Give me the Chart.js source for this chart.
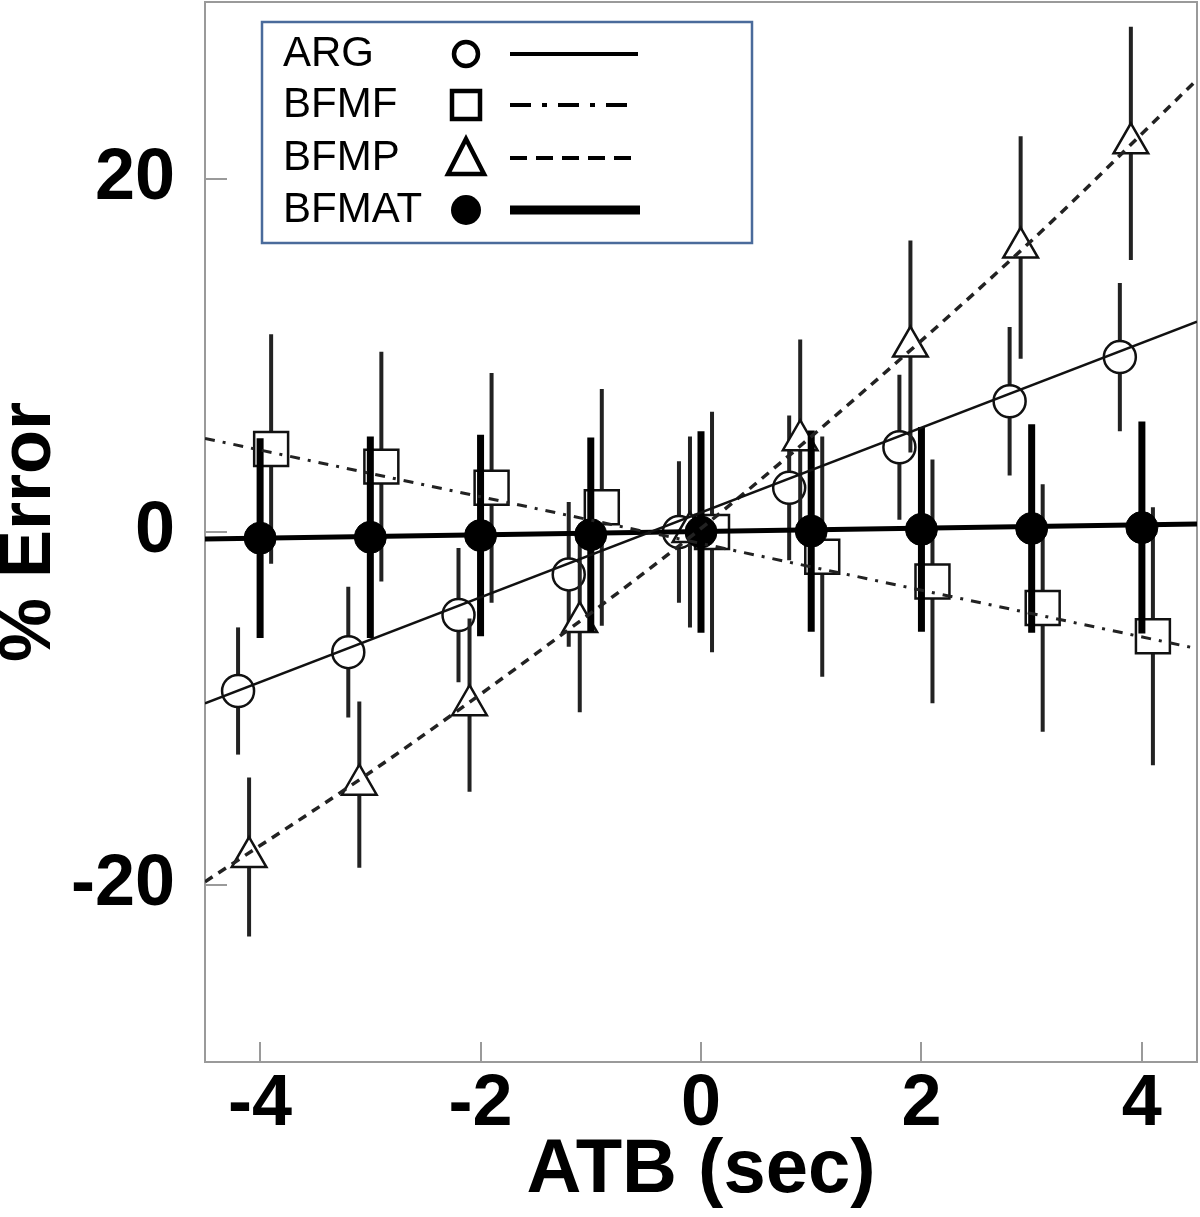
<!DOCTYPE html>
<html>
<head>
<meta charset="utf-8">
<title>% Error vs ATB</title>
<script src="https://cdn.jsdelivr.net/npm/chart.js@4.4.0/dist/chart.umd.min.js"></script>
<style>
  html, body { margin: 0; padding: 0; background: #fff; }
  #wrap { width: 1200px; height: 1217px; }
</style>
</head>
<body>
<div id="wrap"><canvas id="errorChart" width="1200" height="1217"></canvas></div>
<script>
const seriesNames = ['ARG', 'BFMF', 'BFMP', 'BFMAT'];
const xTickValues = [-4, -2, 0, 2, 4];
const yTickValues = [-20, 0, 20];

// each group is shifted a little on x so the bars don't sit on top of each other
const argX = [-4.2, -3.2, -2.2, -1.2, -0.2, 0.8, 1.8, 2.8, 3.8];
const argY = [-9.0, -6.8, -4.7, -2.4, 0.0, 2.5, 4.8, 7.4, 9.9];
const argErr = [3.6, 3.7, 3.8, 4.1, 4.0, 4.1, 4.1, 4.2, 4.2];

const bfmfX = [-3.9, -2.9, -1.9, -0.9, 0.1, 1.1, 2.1, 3.1, 4.1];
const bfmfY = [4.7, 3.7, 2.5, 1.4, 0.0, -1.4, -2.8, -4.3, -5.9];
const bfmfErr = [6.5, 6.5, 6.5, 6.7, 6.8, 6.8, 6.9, 7.0, 7.3];

const bfmpX = [-4.1, -3.1, -2.1, -1.1, -0.1, 0.9, 1.9, 2.9, 3.9];
const bfmpY = [-18.4, -14.3, -9.8, -5.1, 0.0, 5.2, 10.5, 16.1, 22.0];
const bfmpErr = [4.5, 4.7, 4.9, 5.1, 5.4, 5.7, 6.0, 6.3, 6.6];

const bfmatX = [-4, -3, -2, -1, 0, 1, 2, 3, 4];
const bfmatY = [-0.35, -0.3, -0.2, -0.15, 0.0, 0.05, 0.15, 0.2, 0.25];
const bfmatErr = [5.65, 5.7, 5.7, 5.5, 5.7, 5.7, 5.8, 5.9, 6.0];

const argFitX = [-4.5, 4.5];
const argFitY = [-9.7, 11.9];
const bfmfFitX = [-4.5, 4.5];
const bfmfFitY = [5.3, -6.6];
const bfmpFitX = [-4.5, -3, -1.5, 0, 1.5, 3, 4.5];
const bfmpFitY = [-19.8, -13.6, -6.9, 0.2, 8.1, 16.5, 25.6];
const bfmatFitX = [-4.5, 4.5];
const bfmatFitY = [-0.4, 0.45];

const FONT = "'Liberation Sans', Arial, Helvetica, sans-serif";
const AXIS_GRAY = '#9a9a9a';

function toPoints(xs, ys) {
  return xs.map(function (x, i) { return { x: x, y: ys[i] }; });
}

// vertical error bars, drawn just before the markers of the same dataset
const errorBarPlugin = {
  id: 'errorBars',
  beforeDatasetDraw(chart, args) {
    const ds = chart.data.datasets[args.index];
    if (!ds.errors) return;
    const ctx = chart.ctx;
    const yScale = chart.scales.y;
    const area = chart.chartArea;
    ctx.save();
    ctx.beginPath();
    ctx.rect(area.left, area.top, area.right - area.left, area.bottom - area.top);
    ctx.clip();
    ctx.strokeStyle = ds.errColor;
    ctx.lineWidth = ds.errWidth;
    ctx.lineCap = 'butt';
    args.meta.data.forEach(function (pt, i) {
      const v = ds.data[i].y;
      ctx.beginPath();
      ctx.moveTo(pt.x, yScale.getPixelForValue(v - ds.errors[i]));
      ctx.lineTo(pt.x, yScale.getPixelForValue(v + ds.errors[i]));
      ctx.stroke();
    });
    ctx.restore();
  }
};

// top and right side of the plot box
const framePlugin = {
  id: 'frame',
  beforeDatasetsDraw(chart) {
    const ctx = chart.ctx;
    const a = chart.chartArea;
    ctx.save();
    ctx.strokeStyle = AXIS_GRAY;
    ctx.lineWidth = 2;
    ctx.beginPath();
    ctx.moveTo(a.left, a.top);
    ctx.lineTo(a.right, a.top);
    ctx.lineTo(a.right, a.bottom);
    ctx.stroke();
    ctx.restore();
  }
};

function drawMarker(ctx, style, x, y) {
  ctx.beginPath();
  if (style === 'circle') {
    ctx.arc(x, y, 12, 0, Math.PI * 2);
    ctx.stroke();
  } else if (style === 'rect') {
    ctx.rect(x - 14, y - 14, 28, 28);
    ctx.stroke();
  } else if (style === 'triangle') {
    ctx.moveTo(x, y - 19);
    ctx.lineTo(x + 18, y + 16);
    ctx.lineTo(x - 18, y + 16);
    ctx.closePath();
    ctx.stroke();
  } else {
    ctx.arc(x, y, 15, 0, Math.PI * 2);
    ctx.fill();
  }
}

const legendBoxPlugin = {
  id: 'legendBox',
  afterDraw(chart) {
    const ctx = chart.ctx;
    const rows = [54, 105, 158, 210];
    const markers = ['circle', 'rect', 'triangle', 'dot'];
    const dashes = [[], [21, 11, 5, 11], [17, 9], []];
    const widths = [4, 4, 4, 9];
    const ends = [638, 628, 640, 640];
    ctx.save();
    ctx.fillStyle = '#fff';
    ctx.fillRect(262, 22, 490, 221);
    ctx.strokeStyle = '#4a6b9b';
    ctx.lineWidth = 2.5;
    ctx.strokeRect(262, 22, 490, 221);

    ctx.font = '42px ' + FONT;
    ctx.textBaseline = 'middle';
    seriesNames.forEach(function (name, i) {
      const y = rows[i];
      ctx.fillStyle = '#000';
      ctx.fillText(name, 283, y);
      ctx.strokeStyle = '#000';
      ctx.lineWidth = 4.5;
      ctx.lineJoin = 'miter';
      ctx.setLineDash([]);
      drawMarker(ctx, markers[i], 466, y);
      ctx.lineWidth = widths[i];
      ctx.setLineDash(dashes[i]);
      ctx.beginPath();
      ctx.moveTo(510, y);
      ctx.lineTo(ends[i], y);
      ctx.stroke();
    });
    ctx.restore();
  }
};

// drop the label overhang padding Chart.js adds, the box sizes are fixed
function fixScaleBox(scale, size) {
  if (scale.isHorizontal()) {
    scale.height = size;
  } else {
    scale.width = size;
  }
  scale.paddingTop = 0;
  scale.paddingBottom = 0;
  scale.paddingLeft = 0;
  scale.paddingRight = 0;
}

const ctx = document.getElementById('errorChart').getContext('2d');

const datasets = [
  // fit lines, drawn last
  {
    label: 'ARG fit', data: toPoints(argFitX, argFitY), showLine: true,
    borderColor: '#111', borderWidth: 2.5, pointRadius: 0, order: 0
  },
  {
    label: 'BFMF fit', data: toPoints(bfmfFitX, bfmfFitY), showLine: true,
    borderColor: '#222', borderWidth: 3, borderDash: [10, 8, 3, 8], pointRadius: 0, order: 1
  },
  {
    label: 'BFMP fit', data: toPoints(bfmpFitX, bfmpFitY), showLine: true,
    borderColor: '#222', borderWidth: 3.5, borderDash: [9, 7], pointRadius: 0,
    cubicInterpolationMode: 'monotone', order: 2
  },
  {
    label: 'BFMAT fit', data: toPoints(bfmatFitX, bfmatFitY), showLine: true,
    borderColor: '#000', borderWidth: 5, pointRadius: 0, order: 3
  },
  // markers + error bars
  {
    label: 'BFMAT', data: toPoints(bfmatX, bfmatY), errors: bfmatErr, errColor: '#000', errWidth: 7,
    showLine: false, pointStyle: 'circle', pointRadius: 16, pointBorderWidth: 1,
    pointBackgroundColor: '#000', pointBorderColor: '#000', order: 4
  },
  {
    label: 'BFMP', data: toPoints(bfmpX, bfmpY), errors: bfmpErr, errColor: '#222', errWidth: 4,
    showLine: false, pointStyle: 'triangle', pointRadius: 20, pointBorderWidth: 2.5,
    pointBackgroundColor: '#fff', pointBorderColor: '#111', order: 5
  },
  {
    label: 'BFMF', data: toPoints(bfmfX, bfmfY), errors: bfmfErr, errColor: '#222', errWidth: 4,
    showLine: false, pointStyle: 'rect', pointRadius: 24, pointBorderWidth: 2.5,
    pointBackgroundColor: '#fff', pointBorderColor: '#111', order: 6
  },
  {
    label: 'ARG', data: toPoints(argX, argY), errors: argErr, errColor: '#222', errWidth: 4,
    showLine: false, pointStyle: 'circle', pointRadius: 16, pointBorderWidth: 2.5,
    pointBackgroundColor: '#fff', pointBorderColor: '#111', order: 7
  }
];

const options = {
  responsive: false,
  animation: false,
  devicePixelRatio: 1,
  layout: { autoPadding: false, padding: { top: 2, right: 3, left: 0, bottom: 0 } },
  plugins: {
    legend: { display: false },
    tooltip: { enabled: false }
  },
  scales: {
    x: {
      type: 'linear',
      min: -4.5,
      max: 4.5,
      afterBuildTicks: function (scale) {
        scale.ticks = xTickValues.map(function (v) { return { value: v }; });
      },
      afterFit: function (scale) { fixScaleBox(scale, 155); },
      grid: { drawOnChartArea: false, drawTicks: true, tickLength: -20, color: AXIS_GRAY, lineWidth: 2 },
      border: { color: AXIS_GRAY, width: 2 },
      ticks: {
        color: '#000',
        padding: 20,
        maxRotation: 0,
        autoSkip: false,
        font: { family: FONT, size: 72, weight: 'bold' }
      },
      title: {
        display: true,
        text: 'ATB (sec)',
        color: '#000',
        padding: { top: 0, bottom: 0 },
        font: { family: FONT, size: 76, weight: 'bold' }
      }
    },
    y: {
      type: 'linear',
      min: -30,
      max: 30,
      afterBuildTicks: function (scale) {
        scale.ticks = yTickValues.map(function (v) { return { value: v }; });
      },
      afterFit: function (scale) { fixScaleBox(scale, 205); },
      grid: { drawOnChartArea: false, drawTicks: true, tickLength: -22, color: AXIS_GRAY, lineWidth: 2 },
      border: { color: AXIS_GRAY, width: 2 },
      ticks: {
        color: '#000',
        padding: 52,
        autoSkip: false,
        font: { family: FONT, size: 72, weight: 'bold' }
      },
      title: {
        display: true,
        text: '% Error',
        color: '#000',
        padding: { top: 0, bottom: 0 },
        font: { family: FONT, size: 72, weight: 'bold', lineHeight: 0.85 }
      }
    }
  }
};

window.errorChart = new Chart(ctx, {
  type: 'scatter',
  data: { datasets: datasets },
  options: options,
  plugins: [errorBarPlugin, framePlugin, legendBoxPlugin]
});
</script>
</body>
</html>
